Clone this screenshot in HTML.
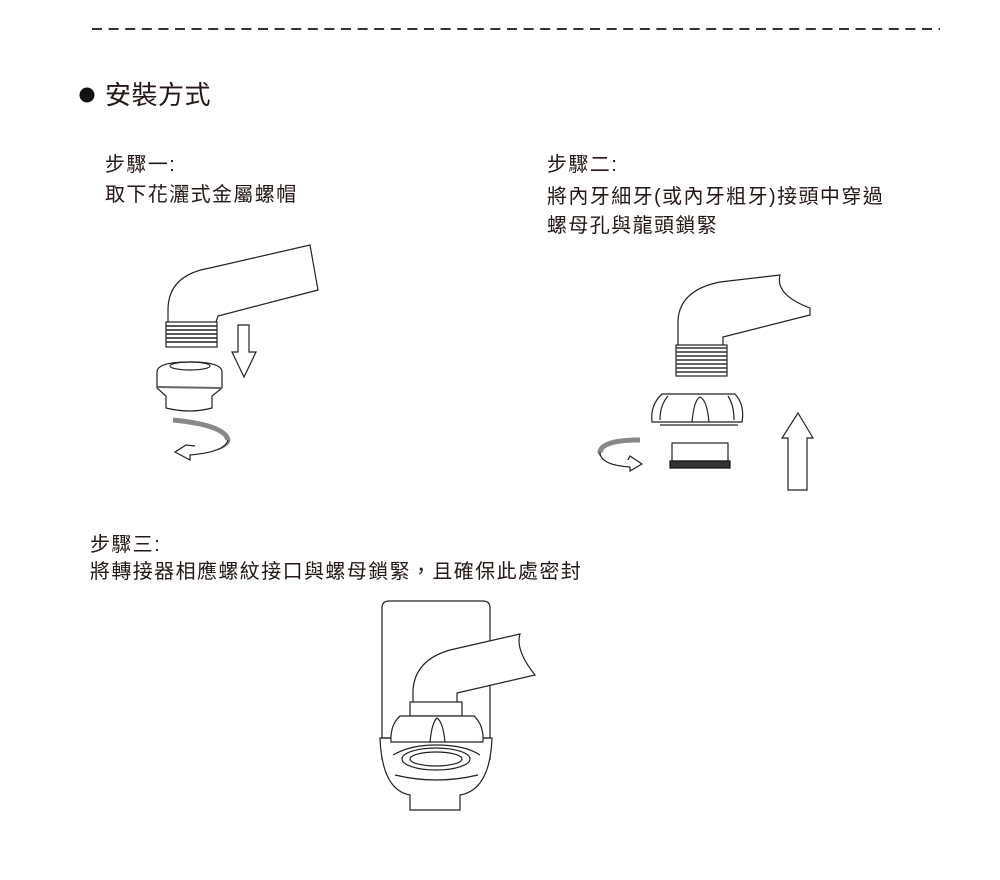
<!DOCTYPE html>
<html><head><meta charset="utf-8"><style>
body{margin:0;width:1000px;height:880px;background:#fff;position:relative;overflow:hidden;font-family:"Liberation Sans","Noto Sans CJK TC",sans-serif;color:#231815}
.t{position:absolute;font-size:20px;line-height:30px;white-space:nowrap;letter-spacing:1.4px;font-weight:normal}
svg{position:absolute;left:0;top:0}
</style></head><body>
<svg width="1000" height="880" viewBox="0 0 1000 880" fill="none" stroke="#222" stroke-width="1.2">
<line x1="92" y1="29" x2="940" y2="29" stroke="#333" stroke-width="2" stroke-dasharray="10,6.6"/>
<circle cx="87" cy="95" r="7.5" fill="#111" stroke="none"/>
<path d="M168,322 L168,310 Q168,275 210,268 L310,245 L318,290 L218,316 L216,322" fill="#fff"/>
<rect x="166" y="322" width="51" height="25" fill="#fff"/>
<g stroke-width="1.5"><line x1="166" y1="326" x2="217" y2="326"/><line x1="166" y1="330" x2="217" y2="330"/><line x1="166" y1="334" x2="217" y2="334"/><line x1="166" y1="338" x2="217" y2="338"/><line x1="166" y1="342" x2="217" y2="342"/></g>
<path d="M157,372 Q157,362 190,362 Q222,362 222,372 L222,388 L212,396 L212,408 Q190,414 166,408 L166,396 L157,388 Z" fill="#fff"/>
<ellipse cx="190" cy="366" rx="20" ry="4"/>
<line x1="157" y1="387" x2="222" y2="388" stroke-width="2" stroke="#666"/>
<path d="M238,325 L249,325 L249,352 L256,352 L244,377 L232,352 L238,352 Z" fill="#fff"/>
<path d="M173,420 Q225,425 228,440 Q225,450 195,450" stroke="#888" stroke-width="5"/>
<path d="M195,446 L186,445 L175,452 L190,460 L190,455 Q225,452 228,440" fill="#fff"/>
<path d="M678,345 L678,320 Q680,290 720,282 L780,275 Q775,295 810,308 L810,315 L723,337 L723,345" fill="#fff"/>
<rect x="676" y="345" width="51" height="31" fill="#fff"/>
<g stroke-width="1.6" stroke="#333"><line x1="676" y1="348" x2="727" y2="348"/><line x1="676" y1="352" x2="727" y2="352"/><line x1="676" y1="356" x2="727" y2="356"/><line x1="676" y1="360" x2="727" y2="360"/><line x1="676" y1="364" x2="727" y2="364"/><line x1="676" y1="368" x2="727" y2="368"/><line x1="676" y1="372" x2="727" y2="372"/></g>
<path d="M662,394 L735,394 Q745,405 742,422 L652,422 Q650,405 662,394 Z" fill="#fff"/>
<line x1="660" y1="425" x2="738" y2="425" stroke="#777" stroke-width="2"/>
<path d="M692,422 Q694,400 700,397 Q707,400 709,422"/>
<path d="M660,420 Q660,405 668,396 M734,420 Q734,405 728,396"/>
<rect x="672" y="443" width="56" height="18" fill="#fff"/>
<rect x="670" y="461" width="60" height="7" fill="#333" stroke="#111"/>
<path d="M788,490 L788,438 L782,438 L798,413 L813,438 L807,438 L807,490 Z" fill="#fff"/>
<path d="M640,440 Q602,440 600,452 Q605,462 630,462" stroke="#888" stroke-width="5"/>
<path d="M628,460 L630,456 L642,464 L630,471 L630,467 Q600,465 600,452" fill="#fff"/>
<path d="M382,760 L382,608 Q382,601 389,601 L483,601 Q490,601 490,608 L490,760" fill="#fff"/>
<path d="M380,738 Q382,790 410,795 L410,810 L460,810 L460,795 Q490,790 492,738 Z" fill="#fff"/>
<path d="M393,755 Q410,745 436,745 Q465,745 480,755" />
<ellipse cx="436" cy="759" rx="34" ry="11" fill="#fff"/>
<ellipse cx="436" cy="759" rx="26" ry="7"/>
<path d="M395,775 Q436,785 478,775"/>
<line x1="382" y1="738" x2="490" y2="738"/>
<path d="M413,702 L413,690 Q415,660 450,650 L520,634 Q515,650 535,675 L457,693 L457,702" fill="#fff"/>
<rect x="410" y="702" width="52" height="14" fill="#fff"/>
<path d="M400,716 L474,716 Q484,725 483,742 L391,742 Q390,725 400,716 Z" fill="#fff"/>
<line x1="396" y1="742" x2="478" y2="742" stroke="#777" stroke-width="2"/>
<path d="M430,742 Q432,722 437,718 Q443,722 445,742"/>
</svg>
<div style="position:absolute;left:105px;top:77px;font-size:26px;line-height:36px;letter-spacing:0.5px">安裝方式</div>
<div class="t" style="left:105px;top:150px">步驟一:</div>
<div class="t" style="left:105px;top:180px">取下花灑式金屬螺帽</div>
<div class="t" style="left:547px;top:150px">步驟二:</div>
<div class="t" style="left:547px;top:182px">將內牙細牙(或內牙粗牙)接頭中穿過</div>
<div class="t" style="left:547px;top:211px">螺母孔與龍頭鎖緊</div>
<div class="t" style="left:90px;top:530px">步驟三:</div>
<div class="t" style="left:90px;top:557px">將轉接器相應螺紋接口與螺母鎖緊，且確保此處密封</div>
</body></html>
